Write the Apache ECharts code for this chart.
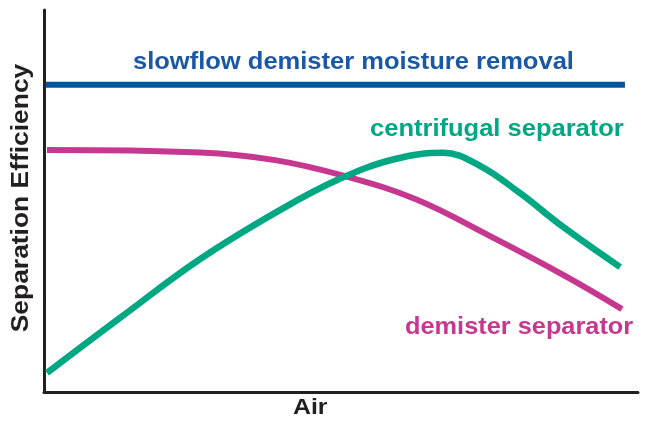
<!DOCTYPE html>
<html>
<head>
<meta charset="utf-8">
<script src="https://cdn.jsdelivr.net/npm/echarts@6/dist/echarts.min.js"></script>
<style>html,body{margin:0;padding:0;background:#fff}#c{width:645px;height:422px}</style>
</head>
<body>
<div id="c"></div>
<script>
// Data (x: relative air flow 0-100, y: relative separation efficiency 0-100)
var slowflowX = [0.3, 97.8];
var slowflowY = [80.4, 80.4];
var demisterX = [0.5, 26.3, 38.9, 50.7, 62.5, 75.1, 87.7, 97.3];
var demisterY = [63.35, 62.7, 60.7, 56.5, 50.5, 40.8, 30.4, 21.7];
var centrifugalX = [0.5, 12.8, 26.3, 39.7, 49.8, 59.1, 67.2, 73.4, 80.1, 87.4, 97.0];
var centrifugalY = [5.0, 19.4, 34.8, 47.6, 55.8, 61.0, 62.6, 59.2, 52.1, 43.2, 32.7];
var seriesNames = ['slowflow demister moisture removal', 'centrifugal separator', 'demister separator'];
var xAxisName = 'Air';
var yAxisName = 'Separation Efficiency';

function pairs(xs, ys) { return xs.map(function (x, i) { return [x, ys[i]]; }); }

var FONT = '"Liberation Sans", Arial, Helvetica, sans-serif';
function label(text, x, y, color, size, sx) {
  return { type: 'text', x: x, y: y, scaleX: sx, scaleY: 1,
    style: { text: text, fill: color, font: 'bold ' + size + 'px ' + FONT, align: 'left', verticalAlign: 'top' } };
}
var chart = echarts.init(document.getElementById('c'), null, { renderer: 'canvas' });
chart.setOption({
  animation: false,
  backgroundColor: '#ffffff',
  grid: { left: 44, right: 7, top: 10, bottom: 30 },
  xAxis: {
    type: 'value', min: 0, max: 100,
    axisLine: { show: true, lineStyle: { color: '#231f20', width: 3 } },
    axisTick: { show: false }, axisLabel: { show: false }, splitLine: { show: false }
  },
  yAxis: {
    type: 'value', min: 0, max: 100,
    axisLine: { show: true, lineStyle: { color: '#231f20', width: 3 } },
    axisTick: { show: false }, axisLabel: { show: false }, splitLine: { show: false }
  },
  series: [
    { name: seriesNames[0], type: 'line', data: pairs(slowflowX, slowflowY), symbol: 'none',
      lineStyle: { color: '#0a51a1', width: 6 } },
    { name: seriesNames[2], type: 'line', data: pairs(demisterX, demisterY), symbol: 'none',
      smooth: 0.4,
      lineStyle: { color: '#c6388f', width: 6 } },
    { name: seriesNames[1], type: 'line', data: pairs(centrifugalX, centrifugalY), symbol: 'none',
      smooth: 0.4,
      lineStyle: { color: '#00a783', width: 6.5 } }
  ],
  graphic: [
    label(seriesNames[0], 133, 50, '#1a57a5', 24, 1.063),
    label(seriesNames[1], 370, 117, '#00a783', 24, 1.063),
    label(seriesNames[2], 405, 315, '#c6388f', 24, 1.056),
    label(xAxisName, 293, 397, '#231f20', 22, 1.13),
    { type: 'text', x: 21, y: 198, rotation: Math.PI / 2, scaleX: 1.1, scaleY: 1,
      style: { text: yAxisName, fill: '#231f20', font: 'bold 24px ' + FONT, align: 'center', verticalAlign: 'middle' } }
  ]
});
</script>
</body>
</html>
